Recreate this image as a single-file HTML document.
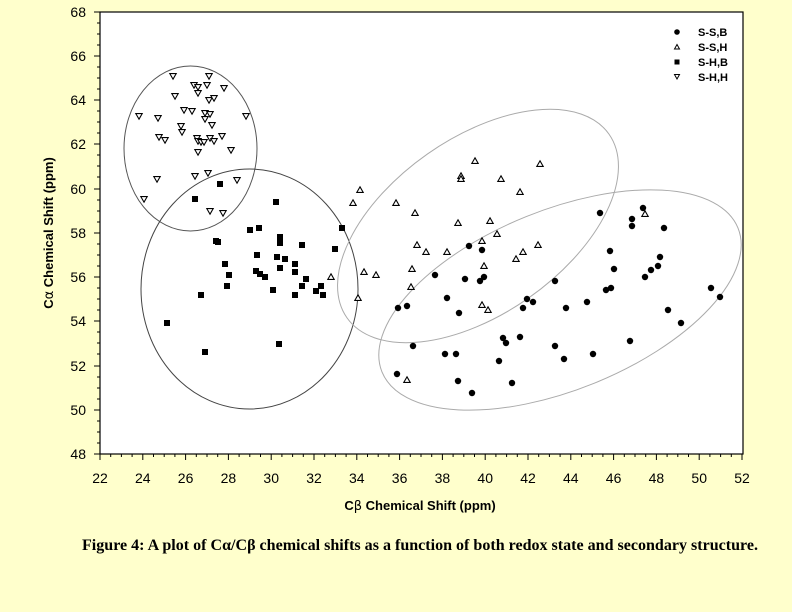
<!DOCTYPE html>
<html><head><meta charset="utf-8"><style>
html,body{margin:0;padding:0;background:#FFFFCC;}
svg{display:block;}
</style></head><body>
<svg width="792" height="612" xmlns="http://www.w3.org/2000/svg" font-family="Liberation Sans, sans-serif">
<defs>
<path id="tu" d="M0,-3.2 L3.2,2.4 L-3.2,2.4 Z" fill="#fff" stroke="#000" stroke-width="1.1"/>
<path id="td" d="M0,3.2 L3.2,-2.4 L-3.2,-2.4 Z" fill="#fff" stroke="#000" stroke-width="1.1"/>
<rect id="sq" x="-3" y="-3" width="6" height="6" fill="#000"/>
<circle id="ci" r="3.2" fill="#000"/>
</defs>
<rect x="100" y="12" width="643" height="442" fill="#fff" stroke="#000" stroke-width="1.2"/>
<g stroke="#000" stroke-width="1" id="ticks">
<path d="M100,12h-6M100,23h-3M100,34h-3M100,45h-3M100,56h-6M100,67h-3M100,78h-3M100,89h-3M100,100h-6M100,111h-3M100,122h-3M100,133h-3M100,144h-6M100,155h-3M100,166h-3M100,177h-3M100,189h-6M100,200h-3M100,211h-3M100,222h-3M100,233h-6M100,244h-3M100,255h-3M100,266h-3M100,277h-6M100,288h-3M100,299h-3M100,310h-3M100,321h-6M100,332h-3M100,343h-3M100,354h-3M100,366h-6M100,377h-3M100,388h-3M100,399h-3M100,410h-6M100,421h-3M100,432h-3M100,443h-3M100,454h-6"/>
<path d="M100,454v6M110.7,454v3M121.4,454v3M132.1,454v3M142.8,454v6M153.5,454v3M164.2,454v3M174.9,454v3M185.6,454v6M196.3,454v3M207,454v3M217.7,454v3M228.4,454v6M239.1,454v3M249.8,454v3M260.5,454v3M271.2,454v6M281.9,454v3M292.6,454v3M303.3,454v3M314,454v6M324.7,454v3M335.4,454v3M346.1,454v3M356.8,454v6M367.5,454v3M378.2,454v3M388.9,454v3M399.6,454v6M410.3,454v3M421,454v3M431.7,454v3M442.4,454v6M453.1,454v3M463.8,454v3M474.5,454v3M485.2,454v6M495.9,454v3M506.6,454v3M517.3,454v3M528,454v6M538.7,454v3M549.4,454v3M560.1,454v3M570.8,454v6M581.5,454v3M592.2,454v3M602.9,454v3M613.6,454v6M624.3,454v3M635,454v3M645.7,454v3M656.4,454v6M667.1,454v3M677.8,454v3M688.5,454v3M699.2,454v6M709.9,454v3M720.6,454v3M731.3,454v3M742,454v6"/>
</g>
<g font-size="14" fill="#000" text-anchor="end">
<text x="86" y="17">68</text><text x="86" y="61">66</text><text x="86" y="105">64</text><text x="86" y="149">62</text><text x="86" y="194">60</text><text x="86" y="238">58</text><text x="86" y="282">56</text><text x="86" y="326">54</text><text x="86" y="371">52</text><text x="86" y="415">50</text><text x="86" y="459">48</text>
</g>
<g font-size="14" fill="#000" text-anchor="middle">
<text x="100" y="483">22</text><text x="142.8" y="483">24</text><text x="185.6" y="483">26</text><text x="228.4" y="483">28</text><text x="271.2" y="483">30</text><text x="314" y="483">32</text><text x="356.8" y="483">34</text><text x="399.6" y="483">36</text><text x="442.4" y="483">38</text><text x="485.2" y="483">40</text><text x="528" y="483">42</text><text x="570.8" y="483">44</text><text x="613.6" y="483">46</text><text x="656.4" y="483">48</text><text x="699.2" y="483">50</text><text x="742" y="483">52</text>
</g>
<text x="420" y="510" font-size="13" font-weight="bold" text-anchor="middle">C<tspan font-family="DejaVu Sans" font-weight="normal">β</tspan> Chemical Shift (ppm)</text>
<text transform="translate(53,233) rotate(-90)" font-size="13" font-weight="bold" text-anchor="middle">C<tspan font-family="DejaVu Sans" font-weight="normal">α</tspan> Chemical Shift (ppm)</text>
<text x="82" y="550" font-family="Liberation Serif, serif" font-size="16" font-weight="bold" textLength="676" lengthAdjust="spacingAndGlyphs">Figure 4: A plot of Cα/Cβ chemical shifts as a function of both redox state and secondary structure.</text>

<g fill="none">
<ellipse cx="190.5" cy="148.5" rx="66.5" ry="82.5" stroke="#555" stroke-width="1"/>
<ellipse cx="249.5" cy="289" rx="108.5" ry="120" stroke="#444" stroke-width="1"/>
<ellipse cx="0" cy="0" rx="160" ry="88" transform="translate(478,226) rotate(-35)" stroke="#aaa" stroke-width="1"/>
<ellipse cx="0" cy="0" rx="192" ry="90" transform="translate(560,300) rotate(-22)" stroke="#aaa" stroke-width="1"/>
</g>

<g>
<use href="#td" x="139" y="116"/><use href="#td" x="173" y="76"/><use href="#td" x="158" y="118"/><use href="#td" x="159" y="137"/><use href="#td" x="165" y="140"/><use href="#td" x="175" y="96"/><use href="#td" x="184" y="110"/><use href="#td" x="192" y="111"/><use href="#td" x="181" y="126"/><use href="#td" x="182" y="132"/><use href="#td" x="194" y="85"/><use href="#td" x="198" y="87"/><use href="#td" x="198" y="93"/><use href="#td" x="207" y="85"/><use href="#td" x="209" y="76"/><use href="#td" x="224" y="88"/><use href="#td" x="209" y="100"/><use href="#td" x="214" y="98"/><use href="#td" x="205" y="113"/><use href="#td" x="210" y="114"/><use href="#td" x="205" y="119"/><use href="#td" x="212" y="125"/><use href="#td" x="197" y="138"/><use href="#td" x="198" y="141"/><use href="#td" x="201" y="142"/><use href="#td" x="204" y="142"/><use href="#td" x="210" y="138"/><use href="#td" x="214" y="141"/><use href="#td" x="222" y="136"/><use href="#td" x="231" y="150"/><use href="#td" x="198" y="152"/><use href="#td" x="246" y="116"/><use href="#td" x="157" y="179"/><use href="#td" x="195" y="176"/><use href="#td" x="208" y="173"/><use href="#td" x="237" y="180"/><use href="#td" x="144" y="199"/><use href="#td" x="210" y="211"/><use href="#td" x="223" y="213"/>
</g>
<g>
<use href="#sq" x="220" y="184"/><use href="#sq" x="195" y="199"/><use href="#sq" x="276" y="202"/><use href="#sq" x="250" y="230"/><use href="#sq" x="259" y="228"/><use href="#sq" x="280" y="237"/><use href="#sq" x="280" y="243"/><use href="#sq" x="302" y="245"/><use href="#sq" x="216" y="241"/><use href="#sq" x="218" y="242"/><use href="#sq" x="257" y="255"/><use href="#sq" x="277" y="257"/><use href="#sq" x="285" y="259"/><use href="#sq" x="225" y="264"/><use href="#sq" x="280" y="268"/><use href="#sq" x="295" y="264"/><use href="#sq" x="295" y="272"/><use href="#sq" x="256" y="271"/><use href="#sq" x="260" y="274"/><use href="#sq" x="265" y="277"/><use href="#sq" x="229" y="275"/><use href="#sq" x="306" y="279"/><use href="#sq" x="227" y="286"/><use href="#sq" x="302" y="286"/><use href="#sq" x="321" y="286"/><use href="#sq" x="316" y="291"/><use href="#sq" x="323" y="295"/><use href="#sq" x="295" y="295"/><use href="#sq" x="273" y="290"/><use href="#sq" x="201" y="295"/><use href="#sq" x="342" y="228"/><use href="#sq" x="335" y="249"/><use href="#sq" x="167" y="323"/><use href="#sq" x="279" y="344"/><use href="#sq" x="205" y="352"/>
</g>
<g>
<use href="#tu" x="475" y="161"/><use href="#tu" x="540" y="164"/><use href="#tu" x="461" y="176"/><use href="#tu" x="461" y="179"/><use href="#tu" x="501" y="179"/><use href="#tu" x="360" y="190"/><use href="#tu" x="520" y="192"/><use href="#tu" x="353" y="203"/><use href="#tu" x="396" y="203"/><use href="#tu" x="415" y="213"/><use href="#tu" x="458" y="223"/><use href="#tu" x="490" y="221"/><use href="#tu" x="497" y="234"/><use href="#tu" x="482" y="241"/><use href="#tu" x="417" y="245"/><use href="#tu" x="426" y="252"/><use href="#tu" x="447" y="252"/><use href="#tu" x="523" y="252"/><use href="#tu" x="538" y="245"/><use href="#tu" x="516" y="259"/><use href="#tu" x="484" y="266"/><use href="#tu" x="364" y="272"/><use href="#tu" x="376" y="275"/><use href="#tu" x="412" y="269"/><use href="#tu" x="411" y="287"/><use href="#tu" x="331" y="277"/><use href="#tu" x="358" y="298"/><use href="#tu" x="482" y="305"/><use href="#tu" x="488" y="310"/><use href="#tu" x="407" y="380"/><use href="#tu" x="645" y="214"/>
</g>
<g>
<use href="#ci" x="469" y="246"/><use href="#ci" x="482" y="250"/><use href="#ci" x="435" y="275"/><use href="#ci" x="465" y="279"/><use href="#ci" x="480" y="281"/><use href="#ci" x="484" y="277"/><use href="#ci" x="447" y="298"/><use href="#ci" x="398" y="308"/><use href="#ci" x="407" y="306"/><use href="#ci" x="459" y="313"/><use href="#ci" x="527" y="299"/><use href="#ci" x="533" y="302"/><use href="#ci" x="523" y="308"/><use href="#ci" x="566" y="308"/><use href="#ci" x="413" y="346"/><use href="#ci" x="445" y="354"/><use href="#ci" x="456" y="354"/><use href="#ci" x="503" y="338"/><use href="#ci" x="506" y="343"/><use href="#ci" x="520" y="337"/><use href="#ci" x="499" y="361"/><use href="#ci" x="555" y="346"/><use href="#ci" x="564" y="359"/><use href="#ci" x="397" y="374"/><use href="#ci" x="458" y="381"/><use href="#ci" x="512" y="383"/><use href="#ci" x="472" y="393"/>
<use href="#ci" x="600" y="213"/><use href="#ci" x="643" y="208"/><use href="#ci" x="632" y="219"/><use href="#ci" x="632" y="226"/><use href="#ci" x="664" y="228"/><use href="#ci" x="610" y="251"/><use href="#ci" x="660" y="257"/><use href="#ci" x="614" y="269"/><use href="#ci" x="658" y="266"/><use href="#ci" x="651" y="270"/><use href="#ci" x="645" y="277"/><use href="#ci" x="555" y="281"/><use href="#ci" x="606" y="290"/><use href="#ci" x="611" y="288"/><use href="#ci" x="711" y="288"/><use href="#ci" x="720" y="297"/><use href="#ci" x="587" y="302"/><use href="#ci" x="668" y="310"/><use href="#ci" x="681" y="323"/><use href="#ci" x="630" y="341"/><use href="#ci" x="593" y="354"/>
</g>
<circle cx="677" cy="32" r="2.8" fill="#000"/>
<path d="M677,44.5 L679.5,49 L674.5,49 Z" fill="#fff" stroke="#000" stroke-width="1"/>
<rect x="674.5" y="59.5" width="5" height="5" fill="#000"/>
<path d="M677,79 L679.5,74.5 L674.5,74.5 Z" fill="#fff" stroke="#000" stroke-width="1"/>
<g font-size="11" font-weight="bold">
<text x="698" y="36">S-S,B</text><text x="698" y="51">S-S,H</text><text x="698" y="66">S-H,B</text><text x="698" y="81">S-H,H</text>
</g>
</svg>
</body></html>
